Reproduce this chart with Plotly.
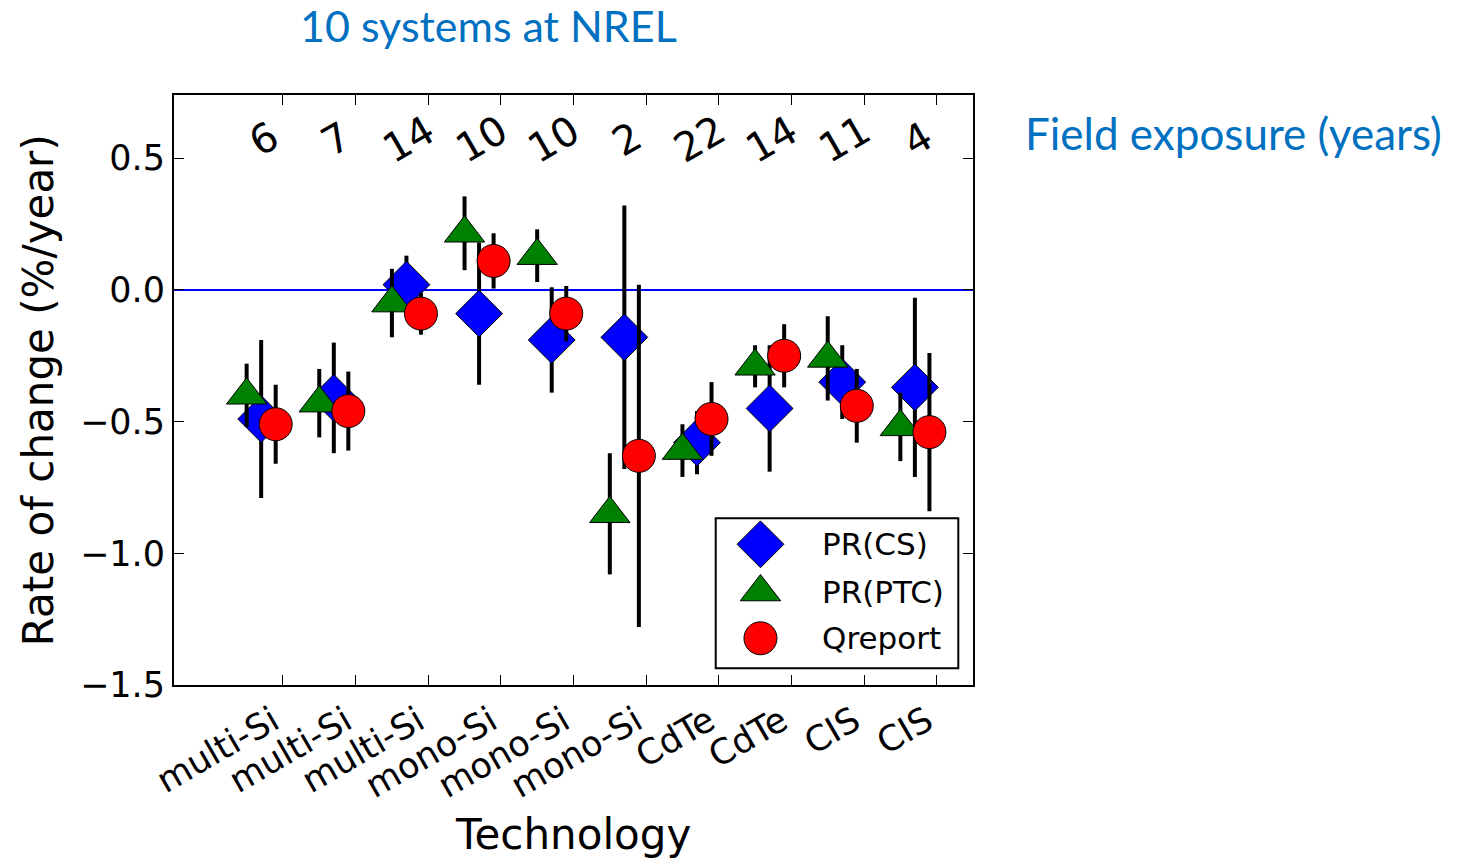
import plotly.graph_objects as go

# Degradation rates for 10 PV systems (%/year) with uncertainty
technologies = ["multi-Si", "multi-Si", "multi-Si", "mono-Si", "mono-Si",
                "mono-Si", "CdTe", "CdTe", "CIS", "CIS"]
exposure_years = [6, 7, 14, 10, 10, 2, 22, 14, 11, 4]

pr_cs = [-0.49, -0.41, 0.02, -0.09, -0.19, -0.18, -0.58, -0.45, -0.35, -0.37]
pr_cs_err = [0.30, 0.21, 0.11, 0.27, 0.20, 0.50, 0.12, 0.24, 0.14, 0.34]

pr_ptc = [-0.40, -0.43, -0.05, 0.215, 0.13, -0.85, -0.61, -0.29, -0.26, -0.52]
pr_ptc_err = [0.12, 0.13, 0.13, 0.14, 0.10, 0.23, 0.10, 0.08, 0.16, 0.13]

qreport = [-0.51, -0.46, -0.09, 0.11, -0.09, -0.63, -0.49, -0.25, -0.44, -0.54]
qreport_err = [0.15, 0.15, 0.08, 0.105, 0.105, 0.65, 0.14, 0.12, 0.14, 0.30]

y_ticks = [-1.5, -1.0, -0.5, 0.0, 0.5]

FONT = "DejaVu Sans"
NOTE_FONT = "Lato"
NOTE_BLUE = "#0070C0"

idx = list(range(len(technologies)))
x_cs = [i - 0.3 for i in idx]
x_ptc = [i - 0.5 for i in idx]
x_q = [i - 0.1 for i in idx]

series = [
    ("PR(CS)", x_cs, pr_cs, pr_cs_err, "diamond", "#0000ff", 36),
    ("PR(PTC)", x_ptc, pr_ptc, pr_ptc_err, "triangle-up", "#008000", 35),
    ("Qreport", x_q, qreport, qreport_err, "circle", "#ff0000", 33),
]

fig = go.Figure()
for name, xs, ys, errs, sym, col, size in series:
    fig.add_trace(go.Scatter(
        x=xs, y=ys, mode="markers", name=name, showlegend=False,
        marker=dict(symbol=sym, color=col, size=size,
                    line=dict(color="black", width=1)),
        error_y=dict(type="data", array=errs, visible=True,
                     thickness=4, width=0, color="black"),
    ))

# Hand-drawn key in an overlay axis spanning the plot area (0..1 both ways)
key_x = 0.734
key_rows = [0.2385, 0.1576, 0.0792]
for (name, _, _, _, sym, col, size), ky in zip(series, key_rows):
    fig.add_trace(go.Scatter(
        x=[key_x], y=[ky], mode="markers", showlegend=False,
        xaxis="x2", yaxis="y2", hoverinfo="skip",
        marker=dict(symbol=sym, color=col, size=size,
                    line=dict(color="black", width=1)),
    ))
    fig.add_annotation(x=0.8085, y=ky, xref="paper", yref="paper",
                       text=name, showarrow=False, xanchor="left",
                       yanchor="middle",
                       font=dict(family=FONT, size=31, color="black"))

fig.add_shape(type="rect", xref="paper", yref="paper",
              x0=0.678, x1=0.9816, y0=0.0283, y1=0.2825,
              line=dict(color="black", width=2))

# Years of field exposure above each system
for i, yrs in zip(idx, exposure_years):
    fig.add_annotation(x=i - 0.27, y=0.573, text=str(yrs), showarrow=False,
                       textangle=-30, xanchor="center", yanchor="middle",
                       font=dict(family=FONT, size=40, color="black"))

# Axis titles
fig.add_annotation(x=-0.17, y=0.5, xref="paper", yref="paper",
                   text="Rate of change (%/year)", showarrow=False,
                   textangle=-90, xanchor="center", yanchor="middle",
                   font=dict(family=FONT, size=42, color="black"))
fig.add_annotation(x=0.4994, y=-0.254, xref="paper", yref="paper",
                   text="Technology", showarrow=False,
                   xanchor="center", yanchor="middle",
                   font=dict(family=FONT, size=42, color="black"))

# Blue notes outside the axes
fig.add_annotation(x=0.393, y=1.117, xref="paper", yref="paper",
                   text="10 systems at NREL", showarrow=False,
                   xanchor="center", yanchor="middle",
                   font=dict(family=NOTE_FONT, size=43, color=NOTE_BLUE))
fig.add_annotation(x=1.0626, y=0.9356, xref="paper", yref="paper",
                   text="Field exposure (years)", showarrow=False,
                   xanchor="left", yanchor="middle",
                   font=dict(family=NOTE_FONT, size=44, color=NOTE_BLUE))

axis_common = dict(
    showline=True, linecolor="black", linewidth=2, mirror="ticks",
    ticks="inside", ticklen=10, tickwidth=1, tickcolor="black",
    showgrid=False,
)

fig.update_layout(
    width=1465, height=858,
    margin=dict(l=174, r=492, t=95, b=173),
    paper_bgcolor="white", plot_bgcolor="white",
    font=dict(family=FONT, color="black"),
    xaxis=dict(range=[-1.5, 9.5], tickvals=idx, ticktext=technologies,
               tickangle=-30, tickfont=dict(size=35), zeroline=False,
               ticklabelshift=-10,
               **axis_common),
    yaxis=dict(range=[-1.5, 0.74], tickvals=y_ticks, tickformat=".1f",
               tickfont=dict(size=35), zeroline=True,
               zerolinecolor="#0000ff", zerolinewidth=2,
               **axis_common),
    xaxis2=dict(range=[0, 1], overlaying="x", visible=False),
    yaxis2=dict(range=[0, 1], overlaying="y", visible=False),
    showlegend=False,
)

fig.write_html("out.html")
